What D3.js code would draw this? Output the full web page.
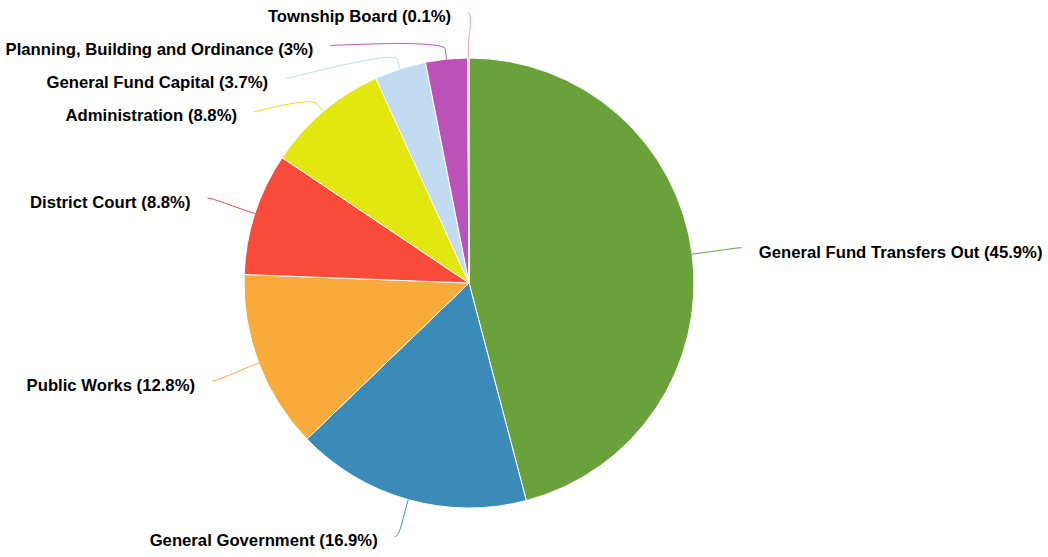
<!DOCTYPE html>
<html>
<head>
<meta charset="utf-8">
<script src="https://cdn.jsdelivr.net/npm/d3@7"></script>
<style>
  html, body { margin: 0; padding: 0; background: #fff; }
  svg { display: block; }
  .lbl { font-family: "Liberation Sans", Arial, Helvetica, sans-serif; font-weight: bold; font-size: 16.7px; fill: #000; }
</style>
</head>
<body>
<svg id="chart" width="1048" height="557"></svg>
<script>
// Expenditure shares by department (percent of total)
const categories = [
  "General Fund Transfers Out",
  "General Government",
  "Public Works",
  "District Court",
  "Administration",
  "General Fund Capital",
  "Planning, Building and Ordinance",
  "Township Board"
];
const shares = [45.9, 16.9, 12.8, 8.8, 8.8, 3.7, 3, 0.1];
const colors = ["#6aa13a", "#3b8bb8", "#f8ab3a", "#f94b3a", "#e2e80f", "#c2dbf0", "#bc52b8", "#f2a3a8"];

const W = 1048, H = 557;
const cx = 469, cy = 283;
const radius = 225;
const labelDistance = 50;
const breakOffset = 10;
const slot = 33;      // vertical room taken by one label
const textGap = 17;   // space between connector end and label text
const textDrop = 4;   // label text sits slightly below its connector end

const svg = d3.select("#chart");
const g = svg.append("g").attr("transform", `translate(${cx},${cy})`);

const data = categories.map((name, i) => ({ name, value: shares[i], color: colors[i] }));

const pie = d3.pie().value(d => d.value).sort(null);
const arcs = pie(data);
const arc = d3.arc().innerRadius(0).outerRadius(radius);

g.selectAll("path.slice")
  .data(arcs)
  .join("path")
  .attr("class", "slice")
  .attr("d", arc)
  .attr("fill", d => d.data.color)
  .attr("stroke", "#fff")
  .attr("stroke-width", 1)
  .attr("stroke-linejoin", "round");

// Label geometry: d3 angles run clockwise from 12 o'clock
const R = radius + labelDistance;
const polar = (r, a) => ({ x: r * Math.sin(a), y: -r * Math.cos(a) });

const labels = arcs.map(a => {
  const mid = (a.startAngle + a.endAngle) / 2;
  const nat = polar(R, mid);
  return {
    d: a.data,
    mid,
    left: mid > Math.PI,
    naturalY: nat.y + cy,      // in page coordinates
    touch: polar(radius, mid),
    brk: polar(radius + breakOffset, mid)
  };
});

// Spread labels on each side so they never overlap vertically
function distribute(items) {
  const lo = -textDrop, hi = H - textDrop;
  const clamp = (pos, size) => Math.max(lo, Math.min(hi - size, pos));
  items.sort((a, b) => a.naturalY - b.naturalY);
  let boxes = items.map(it => ({ members: [it], size: slot, pos: clamp(it.naturalY - slot / 2, slot) }));
  let overlapping = true;
  while (overlapping) {
    overlapping = false;
    for (let i = boxes.length - 1; i > 0; i--) {
      const prev = boxes[i - 1], cur = boxes[i];
      if (prev.pos + prev.size > cur.pos) {
        prev.members = prev.members.concat(cur.members);
        prev.size += cur.size;
        const mean = d3.mean(prev.members, m => m.naturalY);
        prev.pos = clamp(mean - prev.size / 2, prev.size);
        boxes.splice(i, 1);
        overlapping = true;
      }
    }
  }
  boxes.forEach(b => {
    b.members.forEach((m, k) => {
      m.y = b.pos + k * slot + slot / 2;
      m.clamped = (m.y <= lo + slot / 2 + 0.5) || (m.y >= hi - slot / 2 - 0.5);
    });
  });
}
distribute(labels.filter(l => l.left));
distribute(labels.filter(l => !l.left));

labels.forEach(l => {
  const yy = (l.clamped ? l.naturalY : l.y) - cy;
  const dx = Math.sqrt(Math.max(0, R * R - yy * yy));
  l.ex = l.left ? -dx : dx;   // connector end, relative to centre
  l.ey = l.y - cy;
});

// Curved connectors
g.selectAll("path.connector")
  .data(labels)
  .join("path")
  .attr("class", "connector")
  .attr("fill", "none")
  .attr("stroke", l => l.d.color)
  .attr("stroke-width", 1)
  .attr("d", l => {
    const p = d3.path();
    p.moveTo(l.ex, l.ey);
    p.bezierCurveTo(
      l.ex + (l.left ? 5 : -5), l.ey,
      2 * l.brk.x - l.touch.x, 2 * l.brk.y - l.touch.y,
      l.brk.x, l.brk.y
    );
    p.lineTo(l.touch.x, l.touch.y);
    return p.toString();
  });

g.selectAll("text.lbl")
  .data(labels)
  .join("text")
  .attr("class", "lbl")
  .attr("x", l => l.ex + (l.left ? -textGap : textGap))
  .attr("y", l => l.ey + textDrop)
  .attr("dy", "0.35em")
  .attr("text-anchor", l => l.left ? "end" : "start")
  .text(l => `${l.d.name} (${l.d.value}%)`);
</script>
</body>
</html>
